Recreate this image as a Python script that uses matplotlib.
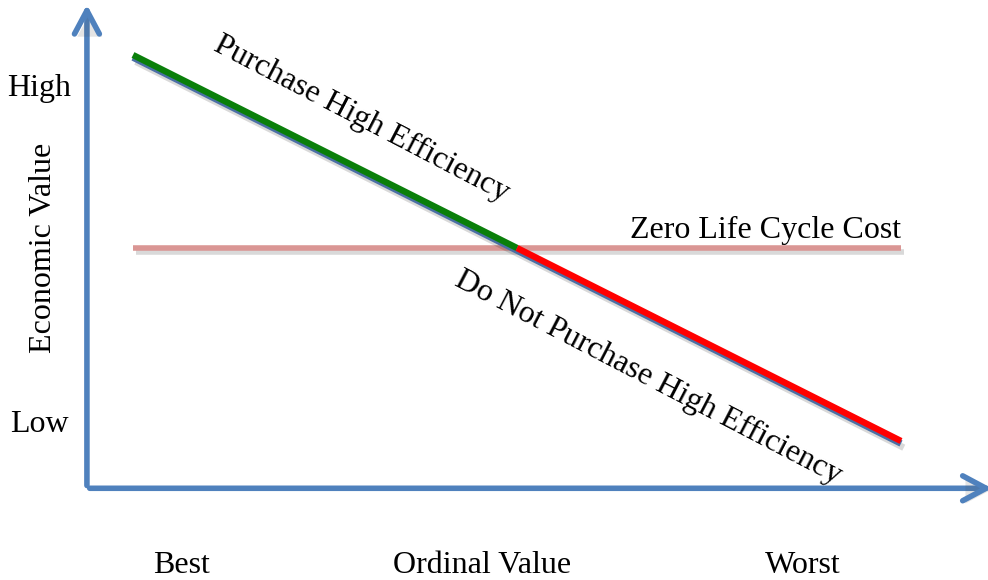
import matplotlib
matplotlib.use("Agg")
import matplotlib.pyplot as plt
import matplotlib.patheffects as pe
import matplotlib.transforms as mtransforms
from matplotlib.patches import FancyArrowPatch

# ---- data ----
ordinal = [0.0, 0.5, 1.0]            # Best -> break-even -> Worst
econ_value = [1.0, 0.0, -1.0]        # economic value along the ordinal scale
zero_lcc_x = [0.0, 1.0]
zero_lcc_y = [0.0, 0.0]
x_labels = ["Best", "Ordinal Value", "Worst"]
x_label_pos = [0.0625, 0.454, 0.872]
y_labels = ["High", "Low"]
y_label_pos = [0.788, -0.953]

plt.rcParams['font.family'] = ['Liberation Serif', 'DejaVu Serif']
FS = 23

fig = plt.figure(figsize=(9.88, 5.8), dpi=100)
ax = fig.add_axes([0, 0, 1, 1])
ax.set_xlim(-133 / 768, 855 / 768)
ax.set_ylim(-332 / 193, 248 / 193)
ax.axis('off')

AX_BLUE = '#4F81BD'
shadow = [pe.SimpleLineShadow(offset=(2, -3), shadow_color='black', alpha=0.15, rho=0.3), pe.Normal()]

# axis arrows
x0, y0 = -0.06, -1.245
for start, end in [((x0, y0), (x0, 1.275)), ((x0, y0), (1.122, y0))]:
    arr = FancyArrowPatch(start, end, arrowstyle='->,head_length=0.6,head_width=0.32',
                          mutation_scale=28, lw=4, color=AX_BLUE, capstyle='round',
                          joinstyle='round', zorder=2)
    arr.set_path_effects([pe.SimplePatchShadow(offset=(2, -2), alpha=0.15), pe.Normal()])
    ax.add_patch(arr)

# zero life cycle cost line
ax.plot(zero_lcc_x, zero_lcc_y, color='#DA9694', lw=4, solid_capstyle='butt',
        zorder=3, path_effects=shadow)

# base blue line (slightly lower)
down = mtransforms.offset_copy(ax.transData, fig=fig, x=0, y=-2.5, units='dots')
ax.plot(ordinal, econ_value, color='#4A6FA5', lw=4.8, solid_capstyle='butt',
        transform=down, zorder=4, path_effects=shadow)
# green / red segments
ax.plot(ordinal[:2], econ_value[:2], color='#0A7F0A', lw=4.6, solid_capstyle='butt', zorder=5)
ax.plot(ordinal[1:], econ_value[1:], color='#FF0000', lw=4.6, solid_capstyle='butt', zorder=5)

# labels
for lab, xp in zip(x_labels, x_label_pos):
    ax.text(xp, -1.684, lab, ha='center', va='baseline', fontsize=FS)
for lab, yp in zip(y_labels, y_label_pos):
    ax.text(-0.122, yp, lab, ha='center', va='baseline', fontsize=FS)
ax.text(-0.117, 0.0, 'Economic Value', rotation=90, ha='center', va='center', fontsize=FS)

ax.text(1.0, 0.052, 'Zero Life Cycle Cost', ha='right', va='baseline', fontsize=FS)
ax.text(0.298, 0.668, 'Purchase High Efficiency', rotation=-27.5, rotation_mode='anchor',
        ha='center', va='center', fontsize=FS)
ax.text(0.671, -0.675, 'Do Not Purchase High Efficiency', rotation=-27.5, rotation_mode='anchor',
        ha='center', va='center', fontsize=FS)

fig.savefig('out.png', dpi=100)
